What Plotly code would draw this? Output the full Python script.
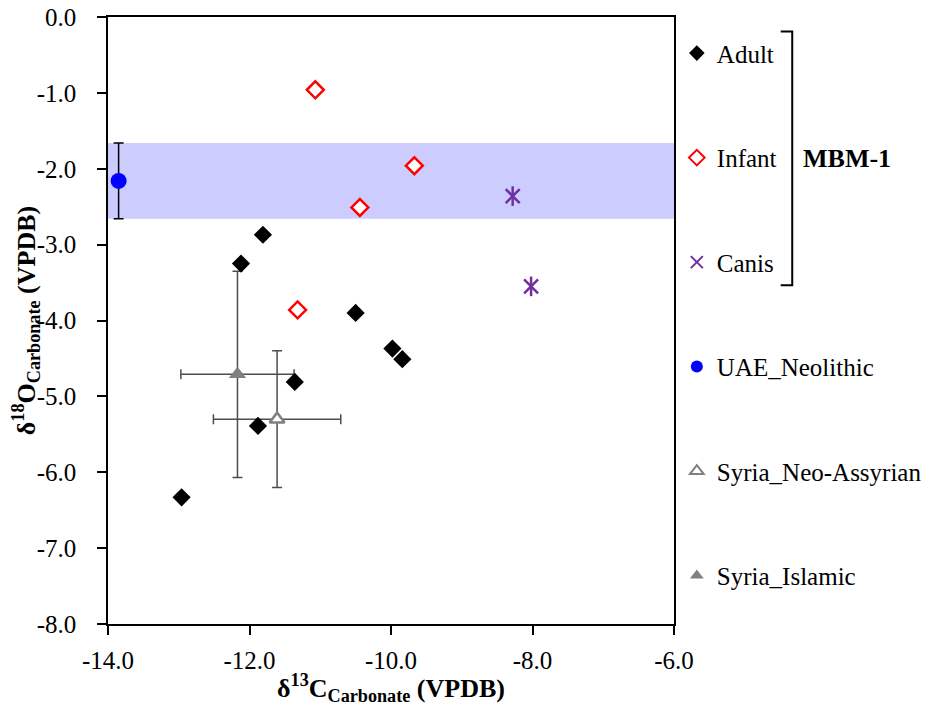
import plotly.graph_objects as go

# MBM-1 samples
adult_x = [-11.81, -12.12, -10.50, -9.98, -9.84, -11.36, -11.88, -12.96]
adult_y = [-2.87, -3.25, -3.90, -4.37, -4.51, -4.81, -5.39, -6.33]

infant_x = [-11.07, -9.67, -10.44, -11.32]
infant_y = [-0.96, -1.96, -2.51, -3.86]

canis_x = [-8.28, -8.02]
canis_y = [-2.36, -3.55]

# comparison groups (mean +/- sd)
uae_x = [-13.85]
uae_y = [-2.16]
uae_sd_y = [0.50]

neo_assyrian_x = [-11.61]
neo_assyrian_y = [-5.30]
neo_assyrian_sd_x = [0.90]
neo_assyrian_sd_y = [0.90]

islamic_x = [-12.17]
islamic_y = [-4.71]
islamic_sd_x = [0.80]
islamic_sd_y = [1.36]

# shaded range (UAE Neolithic)
band_top = -1.66
band_bottom = -2.66

x_ticks = [-14, -12, -10, -8, -6]
x_tick_labels = ["-14.0", "-12.0", "-10.0", "-8.0", "-6.0"]
y_ticks = [0, -1, -2, -3, -4, -5, -6, -7, -8]
y_tick_labels = ["0.0", "-1.0", "-2.0", "-3.0", "-4.0", "-5.0", "-6.0", "-7.0", "-8.0"]

FONT = "Liberation Serif"
ERR_GREY = "#4d4d4d"
PURPLE = "#7030a0"

fig = go.Figure()

# comparison groups first so the MBM-1 markers sit on top of their error bars
fig.add_trace(go.Scatter(
    x=neo_assyrian_x, y=neo_assyrian_y, mode="markers", name="Syria_Neo-Assyrian", legendgroup="e",
    legendrank=5,
    error_x=dict(type="data", array=neo_assyrian_sd_x, color=ERR_GREY, thickness=1.5, width=5),
    error_y=dict(type="data", array=neo_assyrian_sd_y, color=ERR_GREY, thickness=1.5, width=5),
    marker=dict(symbol="triangle-up", size=13, color="white", line=dict(width=2.5, color="#808080"))))

fig.add_trace(go.Scatter(
    x=islamic_x, y=islamic_y, mode="markers", name="Syria_Islamic", legendgroup="f", legendrank=6,
    error_x=dict(type="data", array=islamic_sd_x, color=ERR_GREY, thickness=1.5, width=5),
    error_y=dict(type="data", array=islamic_sd_y, color=ERR_GREY, thickness=1.5, width=5),
    marker=dict(symbol="triangle-up", size=15, color="#808080", line=dict(width=0))))

fig.add_trace(go.Scatter(
    x=uae_x, y=uae_y, mode="markers", name="UAE_Neolithic", legendgroup="d", legendrank=4,
    error_y=dict(type="data", array=uae_sd_y, color="black", thickness=1.5, width=5),
    marker=dict(symbol="circle", size=16, color="#0000ff", line=dict(width=0))))

fig.add_trace(go.Scatter(
    x=adult_x, y=adult_y, mode="markers", name="Adult", legendgroup="a", legendrank=1,
    marker=dict(symbol="diamond", size=14, color="black", line=dict(width=0))))

fig.add_trace(go.Scatter(
    x=infant_x, y=infant_y, mode="markers", name="Infant", legendgroup="b", legendrank=2,
    marker=dict(symbol="diamond", size=13, color="white", line=dict(width=2.5, color="#ff0000"))))

fig.add_trace(go.Scatter(
    x=canis_x, y=canis_y, mode="markers", name="Canis", legendgroup="c", legendrank=3,
    marker=dict(symbol="x-thin-open", size=14, color=PURPLE, line=dict(width=2.5, color=PURPLE))))
fig.add_trace(go.Scatter(
    x=canis_x, y=canis_y, mode="markers", name="Canis", legendgroup="c", showlegend=False,
    marker=dict(symbol="line-ns-open", size=14, color=PURPLE, line=dict(width=2.5, color=PURPLE))))

fig.add_shape(type="rect", xref="x", yref="y", x0=x_ticks[0], x1=x_ticks[-1],
              y0=band_bottom, y1=band_top, fillcolor="#ccccff", line=dict(width=0), layer="below")

# bracket grouping the MBM-1 entries
fig.add_shape(type="path", xref="paper", yref="paper",
              path="M 1.1885,0.976 H 1.2089 V 0.558 H 1.1885",
              line=dict(color="black", width=2))
fig.add_annotation(x=1.225, y=0.767, xref="paper", yref="paper", text="<b>MBM-1</b>",
                   showarrow=False, xanchor="left", yanchor="middle",
                   font=dict(family=FONT, size=26, color="black"))

axis_common = dict(showline=True, linecolor="black", linewidth=1.5, mirror=True,
                   ticks="outside", ticklen=9, tickwidth=1.5, tickcolor="black",
                   showgrid=False, zeroline=False, automargin=False, ticklabeloverflow="allow",
                   tickfont=dict(family=FONT, size=25, color="black"))

fig.update_xaxes(range=[-14, -6], tickvals=x_ticks, ticktext=x_tick_labels,
                 ticklabelstandoff=4,
                 title=dict(text="<b>δ<sup>13</sup>C<sub>Carbonate</sub> (VPDB)</b>", standoff=6,
                            font=dict(family=FONT, size=26, color="black")),
                 **axis_common)
fig.update_yaxes(range=[-8, 0], tickvals=y_ticks, ticktext=y_tick_labels,
                 ticklabelstandoff=16,
                 title=dict(text="<b>δ<sup>18</sup>O<sub>Carbonate</sub> (VPDB)</b>", standoff=5,
                            font=dict(family=FONT, size=26, color="black")),
                 **axis_common)

# the page adds an 8 px body margin, so the figure is 8 px smaller than the window
fig.update_layout(
    width=928, height=698,
    margin=dict(l=100, r=255, t=9, b=82),
    plot_bgcolor="white", paper_bgcolor="white",
    font=dict(family=FONT, color="black"),
    showlegend=True,
    legend=dict(x=1.005, y=0.978, xanchor="left", yanchor="top",
                traceorder="grouped", tracegroupgap=69, itemsizing="constant",
                font=dict(family=FONT, size=25, color="black"),
                bgcolor="rgba(0,0,0,0)"),
)

fig.write_html("out.html")
